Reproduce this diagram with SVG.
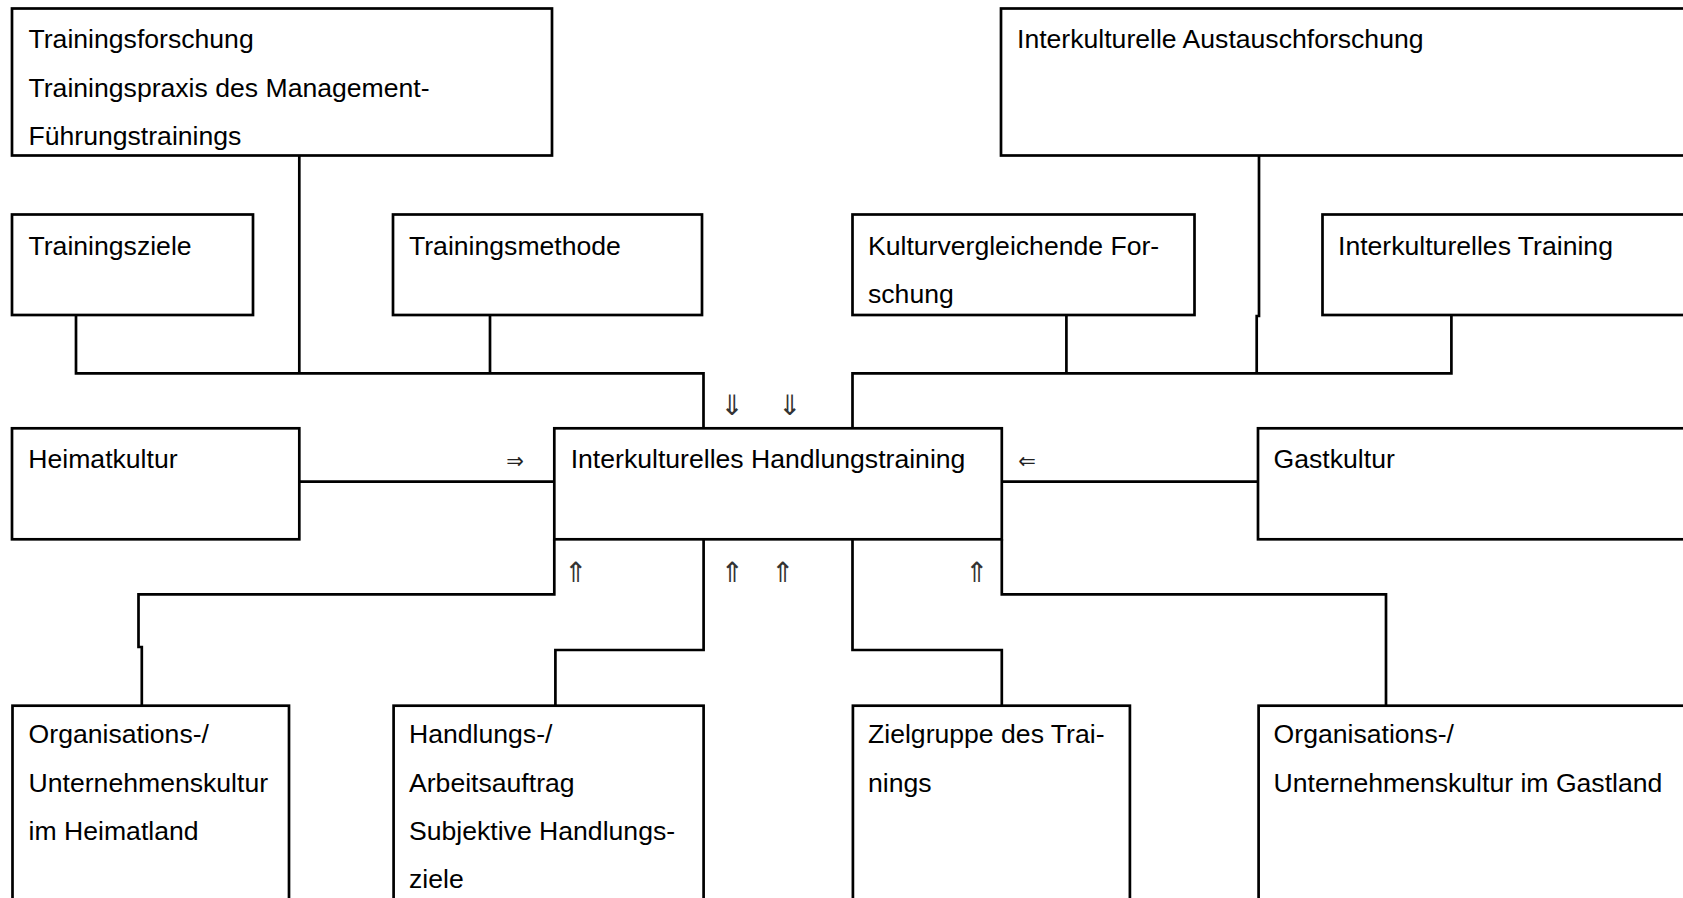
<svg xmlns="http://www.w3.org/2000/svg" width="1683" height="898" viewBox="0 0 1683 898">
<style>
.box{fill:#fff;stroke:#000;stroke-width:2.7}
.t{font-family:"Liberation Sans",Arial,Helvetica,sans-serif;font-size:26.6px;fill:#000}
.c{fill:none;stroke:#000;stroke-width:2.7}
.a{font-family:"DejaVu Sans",sans-serif;font-size:21px;fill:#222;text-anchor:middle}
.v{font-family:"DejaVu Sans",sans-serif;font-size:28px;fill:#333;text-anchor:middle}
</style>
<rect width="1683" height="898" fill="#fff"/>
<g id="connectors">
<path class="c" d="M299.3,155.5 V373.3"/>
<path class="c" d="M76,315 V373.3 H703.5 V428.3"/>
<path class="c" d="M490,315 V373.3"/>
<path class="c" d="M852.5,428.3 V373.3 H1451.4 V315"/>
<path class="c" d="M1066.4,315 V373.3"/>
<path class="c" d="M1259,155.5 V316 H1256.7 V373.3"/>
<path class="c" d="M299.3,481.7 H554.3"/>
<path class="c" d="M1001.8,481.7 H1258"/>
<path class="c" d="M554.3,539.3 V594.3 H138.5 V647 H141.8 V705.7"/>
<path class="c" d="M703.6,539.3 V650 H555.4 V705.7"/>
<path class="c" d="M852.5,539.3 V650 H1001.8 V705.7"/>
<path class="c" d="M1001.8,539.3 V594.3 H1386 V705.7"/>
<text class="v" x="732.3" y="414.5">⇓</text>
<text class="v" x="790" y="414.5">⇓</text>
<text class="a" x="515" y="467.5">⇒</text>
<text class="a" x="1027" y="467.5">⇐</text>
<text class="v" x="576" y="581.5">⇑</text>
<text class="v" x="732.5" y="581.5">⇑</text>
<text class="v" x="783" y="581.5">⇑</text>
<text class="v" x="977" y="581.5">⇑</text>
</g>
<g id="n-trainingsforschung">
<rect class="box" x="12" y="8.5" width="540" height="147"/>
<text class="t" x="28.5" y="48.3">Trainingsforschung</text>
<text class="t" x="28.5" y="96.6">Trainingspraxis des Management-</text>
<text class="t" x="28.5" y="144.6">Führungstrainings</text>
</g>
<g id="n-austausch">
<rect class="box" x="1001" y="8.5" width="720" height="147"/>
<text class="t" x="1017" y="48.3">Interkulturelle Austauschforschung</text>
</g>
<g id="n-trainingsziele">
<rect class="box" x="12" y="214.5" width="241" height="100.5"/>
<text class="t" x="28.5" y="255.3">Trainingsziele</text>
</g>
<g id="n-trainingsmethode">
<rect class="box" x="393" y="214.5" width="309" height="100.5"/>
<text class="t" x="409" y="255.3">Trainingsmethode</text>
</g>
<g id="n-kulturvergleichend">
<rect class="box" x="852.5" y="214.5" width="342" height="100.5"/>
<text class="t" x="868" y="255.3">Kulturvergleichende For-</text>
<text class="t" x="868" y="302.5">schung</text>
</g>
<g id="n-interkulturelles-training">
<rect class="box" x="1322.5" y="214.5" width="420" height="100.5"/>
<text class="t" x="1338" y="255.3">Interkulturelles Training</text>
</g>
<g id="n-heimatkultur">
<rect class="box" x="12" y="428.3" width="287.3" height="111"/>
<text class="t" x="28.3" y="468.3">Heimatkultur</text>
</g>
<g id="n-handlungstraining">
<rect class="box" x="554.3" y="428.3" width="447.5" height="111"/>
<text class="t" x="570.7" y="467.5">Interkulturelles Handlungstraining</text>
</g>
<g id="n-gastkultur">
<rect class="box" x="1258" y="428.3" width="500" height="111"/>
<text class="t" x="1273.6" y="468.3">Gastkultur</text>
</g>
<g id="n-org-heimat">
<rect class="box" x="12.5" y="705.7" width="276.5" height="250"/>
<text class="t" x="28.6" y="743.3">Organisations-/</text>
<text class="t" x="28.6" y="791.6">Unternehmenskultur</text>
<text class="t" x="28.6" y="839.9">im Heimatland</text>
</g>
<g id="n-handlungsauftrag">
<rect class="box" x="393.6" y="705.7" width="310" height="250"/>
<text class="t" x="409" y="743.3">Handlungs-/</text>
<text class="t" x="409" y="791.6">Arbeitsauftrag</text>
<text class="t" x="409" y="839.9">Subjektive Handlungs-</text>
<text class="t" x="409" y="888.2">ziele</text>
</g>
<g id="n-zielgruppe">
<rect class="box" x="852.9" y="705.7" width="277" height="250"/>
<text class="t" x="868" y="743.3">Zielgruppe des Trai-</text>
<text class="t" x="868" y="791.6">nings</text>
</g>
<g id="n-org-gast">
<rect class="box" x="1258.6" y="705.7" width="500" height="250"/>
<text class="t" x="1273.6" y="743.3">Organisations-/</text>
<text class="t" x="1273.6" y="791.6">Unternehmenskultur im Gastland</text>
</g>
</svg>
